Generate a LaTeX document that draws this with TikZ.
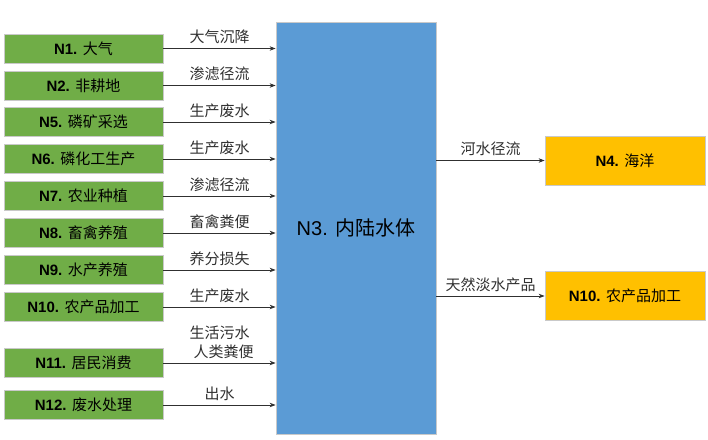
\documentclass[tikz,border=0pt]{standalone}
\usepackage{fontspec}
\setmainfont{Liberation Sans}
\newfontfamily\cjk{Noto Sans CJK SC}
\usetikzlibrary{arrows.meta,positioning}
\definecolor{srcgreen}{HTML}{70AD47}
\definecolor{waterblue}{HTML}{5B9BD5}
\definecolor{sinkgold}{HTML}{FFC000}
\definecolor{edgegray}{HTML}{C9C9C9}
\definecolor{ink}{HTML}{303030}
\newcommand{\zh}[1]{{\cjk #1}}

\begin{document}
\begin{tikzpicture}[x=1pt, y=-1pt, >={Stealth[length=6pt,width=4.5pt]},
  font=\fontsize{15}{17}\selectfont,
  srcbox/.style={fill=srcgreen, draw=edgegray, line width=0.8pt, minimum width=159pt, minimum height=29pt, inner sep=0pt},
  sinkbox/.style={fill=sinkgold, draw=edgegray, line width=0.8pt, minimum width=160pt, minimum height=49pt, inner sep=0pt},
  flow/.style={->, ink, line width=0.8pt},
  flowlab/.style={above, yshift=2pt, inner sep=2pt, align=center, font=\fontsize{15}{19}\selectfont\cjk}]

  \useasboundingbox (0,0) rectangle (708,439);

  % central water body
  \node[fill=waterblue, draw=edgegray, line width=0.8pt, minimum width=160pt, minimum height=412pt, inner sep=0pt]
    (n3) at (356,228) {\fontsize{20}{24}\selectfont N3. \zh{内陆水体}};

  % sources on the left, each with its flow into N3
  \foreach \id/\code/\name/\lab/\y in {
      n1/N1./大气/大气沉降/48.5,
      n2/N2./非耕地/渗滤径流/85.5,
      n5/N5./磷矿采选/生产废水/122,
      n6/N6./磷化工生产/生产废水/159,
      n7/N7./农业种植/渗滤径流/196,
      n8/N8./畜禽养殖/畜禽粪便/233,
      n9/N9./水产养殖/养分损失/270,
      n10a/N10./农产品加工/生产废水/307,
      n11/N11./居民消费/{生活污水\hspace{8pt}\\\hspace{8pt}人类粪便}/363,
      n12/N12./废水处理/出水/405}{
    \node[srcbox] (\id) at (83.5,\y) {\textbf{\code} \zh{\name}};
    \draw[flow] (\id.east) -- (\id.east -| n3.west)
      node[flowlab, midway] {\lab};
  }

  % sinks on the right
  \node[sinkbox] (n4) at (625,160.5) {\textbf{N4.} \zh{海洋}};
  \node[sinkbox] (n10b) at (625,296) {\textbf{N10.} \zh{农产品加工}};

  \draw[flow] (n4.west -| n3.east) -- (n4.west)
    node[flowlab, midway] {河水径流};
  \draw[flow] (n10b.west -| n3.east) -- (n10b.west)
    node[flowlab, midway] {天然淡水产品};

\end{tikzpicture}
\end{document}
